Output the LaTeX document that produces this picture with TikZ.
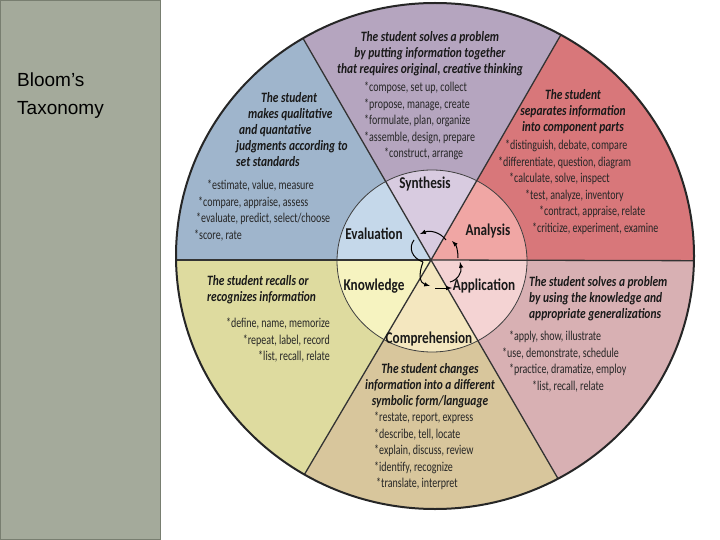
\documentclass[tikz,border=0pt]{standalone}
\usepackage{fontspec}
\setmainfont{Liberation Sans}
\newfontfamily\wf[FakeStretch=0.8]{Carlito}
\newfontfamily\wfl[FakeStretch=0.74]{Carlito}
\definecolor{panel}{RGB}{164,170,155}
\definecolor{panelb}{RGB}{120,126,112}
\definecolor{synO}{RGB}{181,165,191}\definecolor{synI}{RGB}{216,203,224}
\definecolor{anaO}{RGB}{216,119,122}\definecolor{anaI}{RGB}{240,166,164}
\definecolor{appO}{RGB}{216,176,179}\definecolor{appI}{RGB}{244,211,211}
\definecolor{comO}{RGB}{216,198,156}\definecolor{comI}{RGB}{244,231,191}
\definecolor{knoO}{RGB}{222,219,159}\definecolor{knoI}{RGB}{246,243,192}
\definecolor{evaO}{RGB}{159,181,204}\definecolor{evaI}{RGB}{197,216,234}
\begin{document}
\begin{tikzpicture}[x=1pt,y=-1pt,
 hd/.style={font=\wf\bfseries\itshape\fontsize{14.3}{16}\selectfont,inner sep=0pt,text=black!90},
 ls/.style={font=\wfl\fontsize{13.5}{16.5}\selectfont,inner sep=0pt,text=black!85},
 lb/.style={font=\wf\bfseries\fontsize{16.5}{17}\selectfont,inner sep=0pt,text=black!90},
 spoke/.style={line width=1.3pt,black!80},
 arr/.style={-latex,line width=1pt}]
\useasboundingbox (0,0) rectangle (720,540);
\fill[white] (0,0) rectangle (720,540);
\fill[fill=panel,draw=panelb,line width=1pt] (0.5,0.5) rectangle (160,539.5);
\node[anchor=north west,align=left,font=\fontsize{19}{28}\selectfont,inner sep=0pt] (title) at (17,73) {Bloom’s\\Taxonomy};
\coordinate (C) at (431,260);
\coordinate (UL) at (62,-379); \coordinate (UR) at (803,-385);
\coordinate (R) at (1200,262); \coordinate (LR) at (797,890);
\coordinate (LL) at (68,875); \coordinate (L) at (-400,260);
\begin{scope}
\clip (435,256) ellipse [x radius=259, y radius=253];
\fill[synO] (C)--(UL)--(431,-600)--(UR)--cycle;
\fill[anaO] (C)--(UR)--(1200,-600)--(R)--cycle;
\fill[appO] (C)--(R)--(1200,1000)--(LR)--cycle;
\fill[comO] (C)--(LR)--(431,1000)--(LL)--cycle;
\fill[knoO] (C)--(LL)--(-400,1000)--(L)--cycle;
\fill[evaO] (C)--(L)--(-400,-600)--(UL)--cycle;
\begin{scope}
\clip (432,261) ellipse [x radius=95, y radius=91];
\fill[synI] (C)--(UL)--(431,-600)--(UR)--cycle;
\fill[anaI] (C)--(UR)--(1200,-600)--(R)--cycle;
\fill[appI] (C)--(R)--(1200,1000)--(LR)--cycle;
\fill[comI] (C)--(LR)--(431,1000)--(LL)--cycle;
\fill[knoI] (C)--(LL)--(-400,1000)--(L)--cycle;
\fill[evaI] (C)--(L)--(-400,-600)--(UL)--cycle;
\end{scope}
\draw[black!75,line width=0.8pt] (432,261) ellipse [x radius=95, y radius=91];
\foreach \p in {UL,UR,R,LR,LL,L} \draw[spoke] (C)--(\p);
\end{scope}
\draw[black!85,line width=2pt] (435,256) ellipse [x radius=259, y radius=253];
% center arrows
\draw[arr] (423,262) .. controls (418,275) and (420,283) .. (430,286);
\draw[arr] (435,288) -- (452,288);
\draw[arr] (450,282) .. controls (458,280) and (462,272) .. (460,262);
\draw[arr] (458,258) .. controls (458,250) and (456,245) .. (452,241);
\draw[arr] (446,240) .. controls (440,232) and (430,230) .. (420,234);
\draw[line width=1pt] (414,240) .. controls (408,248) and (412,258) .. (423,262);
% labels
\node[lb] (syn) at (425,184) {Synthesis};
\node[lb] (eva) at (374,234) {Evaluation};
\node[lb] (ana) at (488,231) {Analysis};
\node[lb] (kno) at (374,286) {Knowledge};
\node[lb] (app) at (484,286) {Application};
\node[lb] (com) at (429,339) {Comprehension};
% synthesis
\node[hd,align=center] (sh) at (430,54) {The student solves a problem\\by putting information together\\that requires original, creative thinking};
\node[ls,align=left,anchor=north west] (sl) at (364,82) {*compose, set up, collect\\*propose, manage, create\\*formulate, plan, organize\\*assemble, design, prepare\\\hspace*{20pt}*construct, arrange};
% evaluation
\node[hd,align=left,anchor=north west] (eh) at (236,92) {\hspace*{25pt}The student\\\hspace*{12pt}makes qualitative\\\hspace*{3pt}and quantative\\judgments according to\\set standards};
\node[ls,align=left,anchor=north west] (el) at (194,180) {\hspace*{13pt}*estimate, value, measure\\\hspace*{4pt}*compare, appraise, assess\\\hspace*{2pt}*evaluate, predict, select/choose\\*score, rate};
% analysis
\node[hd,align=center] (ah) at (573,112) {The student\\separates information\\into component parts};
\node[ls,align=left,anchor=north west] (al) at (498,140) {\hspace*{7pt}*distinguish, debate, compare\\*differentiate, question, diagram\\\hspace*{11pt}*calculate, solve, inspect\\\hspace*{27pt}*test, analyze, inventory\\\hspace*{41pt}*contract, appraise, relate\\\hspace*{34pt}*criticize, experiment, examine};
% knowledge
\node[hd,align=left,anchor=north west] (kh) at (207,275) {The student recalls or\\recognizes information};
\node[ls,align=right,anchor=north east] (kl) at (330,318) {*define, name, memorize\\*repeat, label, record\\*list, recall, relate};
% application
\node[hd,align=left,anchor=north west] (aph) at (529,276) {The student solves a problem\\by using the knowledge and\\appropriate generalizations};
\node[ls,align=left,anchor=north west] (apl) at (502,331) {\hspace*{7pt}*apply, show, illustrate\\*use, demonstrate, schedule\\\hspace*{7pt}*practice, dramatize, employ\\\hspace*{30pt}*list, recall, relate};
% comprehension
\node[hd,align=center] (ch) at (430,386) {The student changes\\information into a different\\symbolic form/language};
\node[ls,align=left,anchor=north west] (cl) at (374,412) {*restate, report, express\\*describe, tell, locate\\*explain, discuss, review\\*identify, recognize\\\hspace*{2pt}*translate, interpret};
\end{tikzpicture}
\end{document}
